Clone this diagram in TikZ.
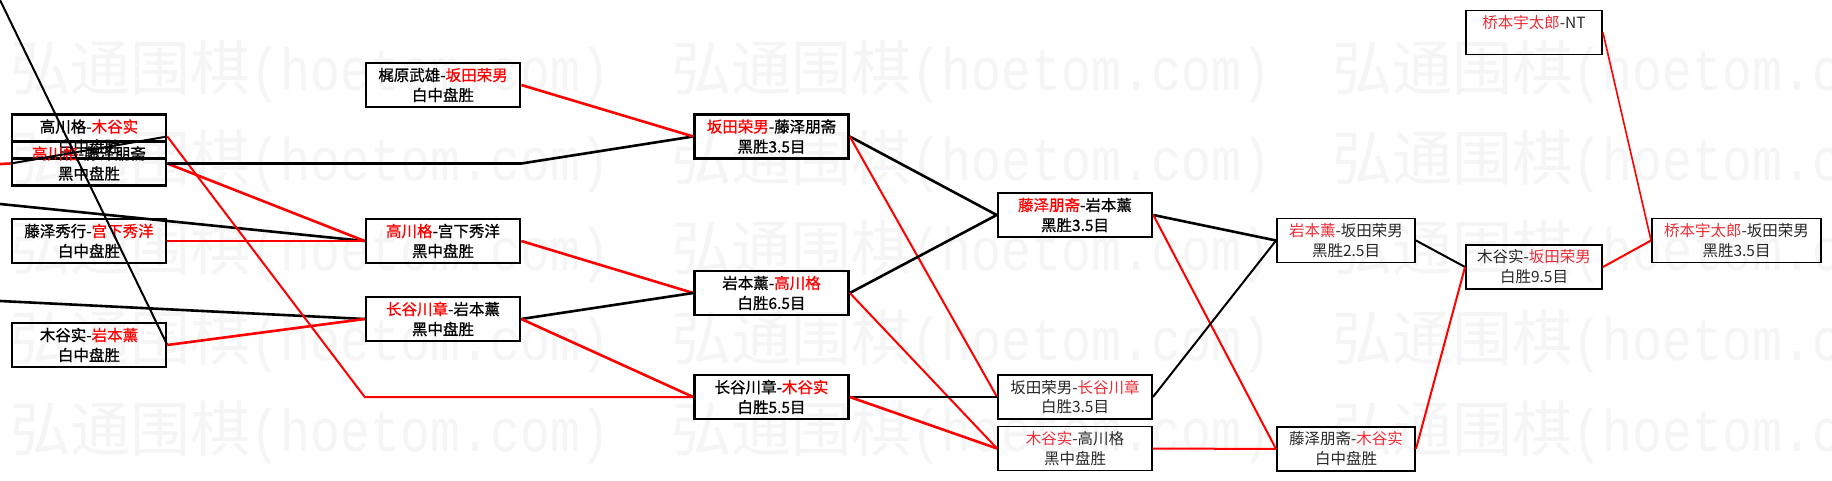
\documentclass[tikz,border=0pt]{standalone}
\usepackage{fontspec}
\usepackage{graphicx}
\setmainfont{Noto Sans CJK SC}
\newfontfamily\cjkheavy[FakeBold=0.7]{Noto Sans CJK SC}
\newfontfamily\wmmono[FakeStretch=0.83]{Liberation Mono}
\definecolor{wmgray}{RGB}{245,245,245}
\definecolor{hred}{RGB}{255,0,0}
\definecolor{lred}{RGB}{235,45,55}
\definecolor{ltext}{RGB}{40,40,40}
\newcommand\hr[1]{\textcolor{hred}{#1}}
\newcommand\lr[1]{\textcolor{lred}{#1}}
\newcommand\wmh[1]{\makebox[30pt]{#1}}
\newcommand\wmline{弘通围棋{\wmmono\wmh{(}\wmh{h}\wmh{o}\wmh{e}\wmh{t}\wmh{o}\wmh{m}\wmh{.}\wmh{c}\wmh{o}\wmh{m}\wmh{)}}}
\tikzset{
  wm/.style={inner sep=0pt, text=wmgray, font=\fontsize{60}{60}\selectfont},
  gbold/.style={draw=black, line width=2.6pt, minimum width=154pt, minimum height=44pt,
    inner sep=0pt, align=center, text=black, font=\cjkheavy\fontsize{15.5}{20}\selectfont},
  glight/.style={draw=black, line width=1.9pt, minimum width=154pt, minimum height=44pt,
    inner sep=0pt, align=center, text=ltext, font=\fontsize{15.5}{20}\selectfont},
  bk/.style={draw=black, line width=2.6pt},
  bkm/.style={draw=black, line width=2pt},
  rdl/.style={draw=hred, line width=2.6pt},
  rdm/.style={draw=hred, line width=2pt},
  rdt/.style={draw=hred, line width=1.6pt},
}
\begin{document}
\begin{tikzpicture}[x=1pt,y=-1pt]
\useasboundingbox (0,0) rectangle (1832,481);
\fill[white] (0,0) rectangle (1832,481);
% watermark
\foreach \yy in {91,181,270,360,451}{
  \foreach \xx in {10,671,1332}{
    \node[wm, anchor=base west] (wm-\xx-\yy) at (\xx,\yy) {\wmline};
  }
}
% column 1
\node[gbold] (A1) at (89,136.5) {高川格-\hr{木谷实}\\白中盘胜};
\node[gbold] (A2) at (89,163.5) {\hr{高川格}-藤泽朋斋\\黑中盘胜};
\node[gbold] (A3) at (89,241) {藤泽秀行-\hr{宫下秀洋}\\白中盘胜};
\node[gbold] (A4) at (89,345) {木谷实-\hr{岩本薰}\\白中盘胜};
% column 2
\node[gbold] (B1) at (443,85) {梶原武雄-\hr{坂田荣男}\\白中盘胜};
\node[gbold] (B2) at (443,241) {\hr{高川格}-宫下秀洋\\黑中盘胜};
\node[gbold] (B3) at (443,319) {\hr{长谷川章}-岩本薰\\黑中盘胜};
% column 3
\node[gbold] (C1) at (771.5,136.5) {\hr{坂田荣男}-藤泽朋斋\\黑胜3.5目};
\node[gbold] (C2) at (771.5,293) {岩本薰-\hr{高川格}\\白胜6.5目};
\node[gbold] (C3) at (771.5,397) {长谷川章-\hr{木谷实}\\白胜5.5目};
% column 4
\node[gbold] (D1) at (1075,215) {\hr{藤泽朋斋}-岩本薰\\黑胜3.5目};
\node[glight] (D2) at (1075,397) {坂田荣男-\lr{长谷川章}\\白胜3.5目};
\node[glight] (D3) at (1075,448.5) {\lr{木谷实}-高川格\\黑中盘胜};
% column 5
\node[glight, minimum width=138pt] (E1) at (1346,240.5) {\lr{岩本薰}-坂田荣男\\黑胜2.5目};
\node[glight, minimum width=138pt] (E2) at (1346,449) {藤泽朋斋-\lr{木谷实}\\白中盘胜};
% column 6
\node[glight, minimum width=136pt] (F1) at (1534,32.5) {\lr{桥本宇太郎}-NT\\\phantom{白}};
\node[glight, minimum width=136pt] (F2) at (1534,267) {木谷实-\lr{坂田荣男}\\白胜9.5目};
% column 7
\node[glight, minimum width=169pt] (G1) at (1736.5,240.5) {\lr{桥本宇太郎}-坂田荣男\\黑胜3.5目};
% free ends at the left edge
\coordinate (eTL) at (0,0);
\coordinate (eL1) at (0,164);
\coordinate (eL2) at (0,204);
\coordinate (eL3) at (0,301);
% connectors
\draw[rdl] (eL1) -- (A2.west);
\draw[bkm] (A2.west) -- (A1.east);
\draw[bkm] (eTL) -- (A4.east);
\draw[bk] (eL2) -- (B2.west);
\draw[bk] (eL3) -- (B3.west);
\draw[rdm] (A1.east) -- (C3.west -| B2.west) -- (C3.west);
\draw[rdl] (A2.east) -- (B2.west);
\draw[rdl] (A3.east) -- (B2.west);
\draw[rdl] (A4.east) -- (B3.west);
\draw[bk] (A2.east) -- (A2.east -| B2.east) -- (C1.west);
\draw[rdl] (B1.east) -- (C1.west);
\draw[rdl] (B2.east) -- (C2.west);
\draw[bk] (B3.east) -- (C2.west);
\draw[rdl] (B3.east) -- (C3.west);
\draw[bk] (C1.east) -- (D1.west);
\draw[rdm] (C1.east) -- (D2.west);
\draw[bk] (C2.east) -- (D1.west);
\draw[rdm] (C2.east) -- (D3.west);
\draw[bk] (C3.east) -- (D2.west);
\draw[rdl] (C3.east) -- (D3.west);
\draw[bk] (D1.east) -- (E1.west);
\draw[rdm] (D1.east) -- (E2.west);
\draw[bkm] (D2.east) -- (E1.west);
\draw[rdm] (D3.east) -- (E2.west);
\draw[bkm] (E1.east) -- (F2.west);
\draw[rdm] (E2.east) -- (F2.west);
\draw[rdm] (F2.east) -- (G1.west);
\draw[rdt] (F1.east) -- (G1.west);
\end{tikzpicture}
\end{document}
